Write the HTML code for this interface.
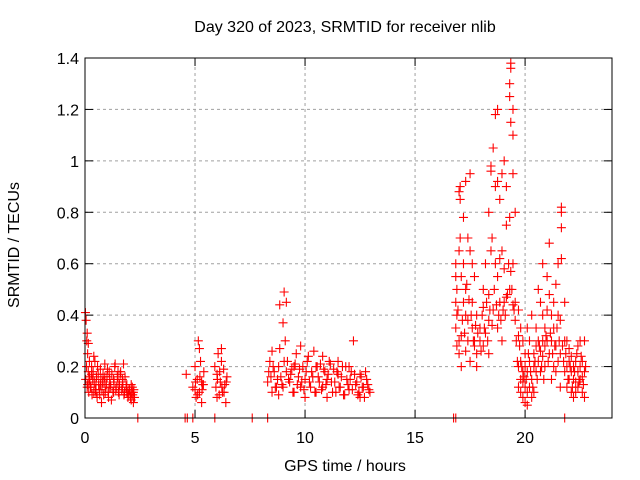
<!DOCTYPE html>
<html><head><meta charset="utf-8"><style>
body{margin:0;background:#fff;}
svg{display:block;font-family:"Liberation Sans",sans-serif;}
</style></head><body>
<svg id="chart" width="640" height="480">
<text x="345" y="32" font-size="16" text-anchor="middle">Day 320 of 2023, SRMTID for receiver nlib</text>
<text x="345" y="471" font-size="16" text-anchor="middle">GPS time / hours</text>
<text x="19" y="245" font-size="16" text-anchor="middle" transform="rotate(-90 19 245)">SRMTID / TECUs</text>
<g id="grid"></g><g id="ticks"></g><g id="marks"></g>
<rect x="85" y="58" width="527" height="360" fill="none" stroke="#000" stroke-width="1"/>
</svg>
<script>
const xTicks=[0,5,10,15,20];
const yTicks=[0,0.2,0.4,0.6,0.8,1,1.2,1.4];
const yTickLabels=["0","0.2","0.4","0.6","0.8","1","1.2","1.4"];
const times=[
0.02,0.05,0.08,0.1,0.12,0.15,0.18,0.2,0.25,0.3,0.35,0.4,0.45,0.5,0.55,0.6,0.65,0.7,0.75,0.8,0.85,0.9,0.95,1.0,1.05,1.1,1.15,1.2,1.3,1.35,1.4,1.5,1.55,1.6,1.7,1.75,1.8,1.9,1.95,2.0,2.05,2.1,2.15,2.2,2.25,
0.1,0.3,0.5,0.7,0.9,1.1,1.3,1.5,1.7,1.9,2.1,2.2,0.15,0.4,0.2,
4.6,4.9,5.0,5.05,5.1,5.15,5.2,5.25,5.3,5.35,5.4,5.0,5.2,5.3,
5.9,5.95,6.0,6.05,6.1,6.15,6.2,6.25,6.3,6.35,6.4,6.45,6.0,6.2,
8.3,8.4,8.5,8.6,8.7,8.8,8.85,8.9,9.0,9.05,9.1,9.15,9.2,9.3,9.4,9.5,9.6,9.7,9.8,9.9,10.0,10.1,10.2,10.3,10.4,10.5,10.6,10.7,10.8,10.9,11.0,11.1,11.2,11.3,11.4,11.5,11.6,11.7,11.8,11.9,12.0,12.1,12.2,12.3,12.4,12.5,12.6,12.7,12.8,12.9,
8.5,9.0,9.5,10.0,10.5,11.0,11.5,12.0,12.5,8.8,9.8,10.8,
16.85,16.85,16.85,16.85,16.9,16.9,16.9,17.0,17.0,17.0,17.0,17.05,17.05,17.05,17.1,17.1,17.1,17.2,17.2,17.2,17.3,17.3,17.3,17.3,17.4,17.4,17.4,17.5,17.5,17.5,17.6,17.6,17.6,17.7,17.7,17.7,17.8,17.8,17.8,17.95,17.95,18.1,18.1,18.1,18.2,18.2,18.35,18.35,18.35,18.35,18.45,18.45,18.45,18.5,18.55,18.55,18.65,18.65,18.65,18.75,18.75,18.75,18.75,18.85,18.85,18.85,18.95,18.95,18.95,19.05,19.05,19.05,19.15,19.15,19.15,19.3,19.3,19.3,19.3,19.35,19.35,19.35,19.35,19.45,19.45,19.45,19.45,19.45,19.55,19.55,19.55,19.7,19.7,19.7,19.7,19.8,19.8,19.8,19.8,19.9,19.9,19.9,19.9,20.0,20.0,20.0,20.0,
20.1,20.1,20.1,20.1,20.2,20.2,20.2,20.3,20.3,20.3,20.4,20.4,20.4,20.5,20.5,20.5,20.6,20.6,20.6,20.7,20.7,20.7,20.8,20.8,20.8,20.8,20.9,20.9,20.9,21.0,21.0,21.0,21.1,21.1,21.1,21.2,21.2,21.2,21.3,21.3,21.3,21.4,21.4,21.4,21.5,21.5,21.5,21.6,21.6,21.6,21.65,21.65,21.65,21.65,21.8,21.8,21.8,21.9,21.9,21.9,22.0,22.0,22.0,22.1,22.1,22.1,22.2,22.2,22.2,22.3,22.3,22.3,22.4,22.4,22.4,22.5,22.5,22.5,22.6,22.6,22.6,22.7,22.7,22.7,
2.4,4.55,4.65,4.9,5.9,7.6,8.3,16.75,16.85,21.8];
const values=[
0.41,0.38,0.3,0.33,0.25,0.18,0.14,0.16,0.12,0.2,0.15,0.1,0.22,0.13,0.08,0.17,0.11,0.19,0.06,0.14,0.09,0.21,0.12,0.16,0.1,0.18,0.13,0.07,0.15,0.2,0.11,0.14,0.09,0.17,0.12,0.21,0.1,0.13,0.08,0.11,0.09,0.07,0.12,0.1,0.08,
0.12,0.17,0.1,0.13,0.16,0.12,0.1,0.18,0.15,0.1,0.13,0.06,0.29,0.24,0.22,
0.17,0.12,0.2,0.08,0.15,0.3,0.1,0.22,0.06,0.13,0.18,0.11,0.27,0.14,
0.2,0.12,0.17,0.25,0.09,0.14,0.27,0.1,0.19,0.13,0.06,0.16,0.08,0.22,
0.14,0.22,0.1,0.18,0.12,0.2,0.44,0.16,0.37,0.49,0.3,0.45,0.22,0.14,0.19,0.1,0.25,0.16,0.12,0.2,0.08,0.22,0.14,0.18,0.26,0.1,0.16,0.21,0.12,0.18,0.08,0.22,0.14,0.19,0.1,0.17,0.12,0.2,0.09,0.15,0.11,0.18,0.3,0.13,0.09,0.17,0.12,0.08,0.15,0.11,
0.26,0.12,0.2,0.15,0.2,0.15,0.22,0.2,0.08,0.09,0.28,0.24,
0.35,0.45,0.55,0.6,0.4,0.28,0.5,0.25,0.3,0.65,0.88,0.85,0.9,0.7,0.55,0.2,0.32,0.78,0.45,0.6,0.92,0.4,0.26,0.5,0.38,0.7,0.3,0.95,0.65,0.22,0.6,0.35,0.45,0.3,0.55,0.28,0.4,0.2,0.25,0.3,0.35,0.43,0.28,0.5,0.6,0.33,0.38,0.8,0.48,0.25,0.96,0.98,0.65,0.7,1.05,0.42,1.18,0.9,0.6,1.2,0.92,0.55,0.35,0.85,0.45,0.62,0.95,0.65,0.3,1.0,0.58,0.45,0.75,0.47,0.9,1.3,1.25,0.78,0.5,1.36,1.38,1.15,0.57,1.2,1.1,0.95,0.6,0.44,0.8,0.45,0.38,0.42,0.32,0.2,0.12,0.35,0.22,0.15,0.1,0.3,0.08,0.18,0.14,0.25,0.12,0.06,0.2,
0.35,0.18,0.1,0.05,0.3,0.22,0.12,0.4,0.15,0.08,0.25,0.2,0.1,0.28,0.35,0.18,0.5,0.3,0.22,0.45,0.18,0.26,0.6,0.4,0.3,0.24,0.35,0.2,0.28,0.55,0.42,0.3,0.68,0.48,0.25,0.4,0.3,0.15,0.45,0.35,0.2,0.52,0.28,0.18,0.6,0.4,0.22,0.38,0.25,0.12,0.82,0.8,0.74,0.62,0.45,0.3,0.18,0.3,0.2,0.12,0.27,0.22,0.15,0.24,0.18,0.1,0.2,0.15,0.08,0.22,0.14,0.1,0.28,0.18,0.12,0.3,0.2,0.15,0.22,0.16,0.1,0.3,0.18,0.08,
0,0,0,0,0,0,0,0,0,0];
const extraTimes=[
0.03,0.07,0.12,0.17,0.22,0.27,0.32,0.37,0.42,0.47,0.52,0.57,0.62,0.67,0.72,0.77,0.82,0.87,0.92,0.97,1.02,1.07,1.12,1.17,1.22,1.27,1.32,1.37,1.42,1.47,1.52,1.57,1.62,1.67,1.72,1.77,1.82,1.87,1.92,1.97,2.02,2.07,2.12,2.17,2.22,
5.02,5.12,5.22,5.32,5.38,6.02,6.12,6.22,6.32,6.42,
8.35,8.45,8.55,8.65,8.75,8.85,8.95,9.05,9.15,9.25,9.35,9.45,9.55,9.65,9.75,9.85,9.95,10.05,10.15,10.25,10.35,10.45,10.55,10.65,10.75,10.85,10.95,11.05,11.15,11.25,11.35,11.45,11.55,11.65,11.75,11.85,11.95,12.05,12.15,12.25,12.35,12.45,12.55,12.65,12.75,12.85,12.95,
16.95,17.15,17.25,17.35,17.45,17.55,17.65,17.75,17.85,18.0,18.05,18.15,18.25,18.3,18.4,18.5,18.6,18.7,18.8,18.9,19.0,19.1,19.2,19.25,19.4,19.5,19.6,19.65,19.75,19.85,19.95,
20.05,20.15,20.25,20.35,20.45,20.55,20.65,20.75,20.85,20.95,21.05,21.15,21.25,21.35,21.45,21.55,21.7,21.75,21.85,21.95,22.05,22.15,22.25,22.35,22.45,22.55,22.65,22.75];
const extraValues=[
0.15,0.2,0.13,0.1,0.15,0.12,0.09,0.18,0.14,0.11,0.16,0.2,0.13,0.09,0.15,0.11,0.17,0.14,0.1,0.13,0.19,0.08,0.15,0.12,0.17,0.1,0.14,0.21,0.12,0.16,0.1,0.13,0.18,0.11,0.14,0.09,0.16,0.12,0.1,0.09,0.11,0.08,0.1,0.09,0.11,
0.14,0.09,0.16,0.11,0.13,0.15,0.18,0.12,0.1,0.14,
0.18,0.16,0.2,0.12,0.15,0.27,0.13,0.22,0.18,0.15,0.17,0.1,0.21,0.13,0.19,0.14,0.11,0.18,0.24,0.12,0.16,0.1,0.2,0.14,0.11,0.19,0.13,0.17,0.21,0.1,0.14,0.18,0.12,0.16,0.09,0.2,0.13,0.15,0.11,0.17,0.14,0.1,0.16,0.12,0.18,0.13,0.1,
0.42,0.38,0.33,0.52,0.46,0.4,0.3,0.36,0.33,0.26,0.4,0.35,0.45,0.3,0.42,0.36,0.5,0.44,0.4,0.38,0.42,0.4,0.48,0.6,0.5,0.42,0.3,0.22,0.28,0.2,0.16,
0.15,0.25,0.18,0.12,0.22,0.15,0.28,0.2,0.15,0.32,0.22,0.33,0.25,0.28,0.35,0.3,0.28,0.22,0.25,0.15,0.2,0.12,0.18,0.25,0.14,0.24,0.13,0.2];
const X0=85,X1=612,Y0=418,Y1=58,XMAX=23.95,YMAX=1.4;
function xs(h){return X0+h*(X1-X0)/XMAX;}
function ys(v){return Y0-v*(Y0-Y1)/YMAX;}
const NS="http://www.w3.org/2000/svg";
function mk(tag,attrs,parent){const e=document.createElementNS(NS,tag);for(const k in attrs)e.setAttribute(k,attrs[k]);parent.appendChild(e);return e;}
const grid=document.getElementById('grid'),ticks=document.getElementById('ticks'),marks=document.getElementById('marks');
xTicks.forEach(t=>{const x=xs(t);
 if(t>0){const g=mk('line',{x1:x,x2:x,y1:Y0,y2:Y1,stroke:'#a0a0a0','stroke-dasharray':'3,3'},grid);
 
 }
 mk('line',{x1:x,x2:x,y1:Y0,y2:Y0-8,stroke:'#000'},ticks);
 mk('line',{x1:x,x2:x,y1:Y1,y2:Y1+8,stroke:'#000'},ticks);
 const l=mk('text',{x:x,y:Y0+25,'font-size':16,'text-anchor':'middle'},ticks);l.textContent=t;
 
 
});
yTicks.forEach((t,i)=>{const y=ys(t);
 if(t>0){const g=mk('line',{x1:X0,x2:X1,y1:y,y2:y,stroke:'#a0a0a0','stroke-dasharray':'3,3'},grid);
 
 }
 mk('line',{x1:X0,x2:X0+8,y1:y,y2:y,stroke:'#000'},ticks);
 mk('line',{x1:X1,x2:X1-8,y1:y,y2:y,stroke:'#000'},ticks);
 const l=mk('text',{x:X0-6,y:y+6,'font-size':16,'text-anchor':'end'},ticks);l.textContent=yTickLabels[i];
 
 
});
function plot(ts,vs,color){ts.forEach((h,i)=>{const x=xs(h),y=ys(vs[i]);
 const p=mk('path',{d:`M${x-4.5},${y}h9M${x},${y-4.5}v9`,stroke:color,'stroke-width':1.1,fill:'none'},marks);
 
 
});}
plot(extraTimes,extraValues,'#ff0000');
plot(times,values,'#ff0000');
</script>
</body></html>
